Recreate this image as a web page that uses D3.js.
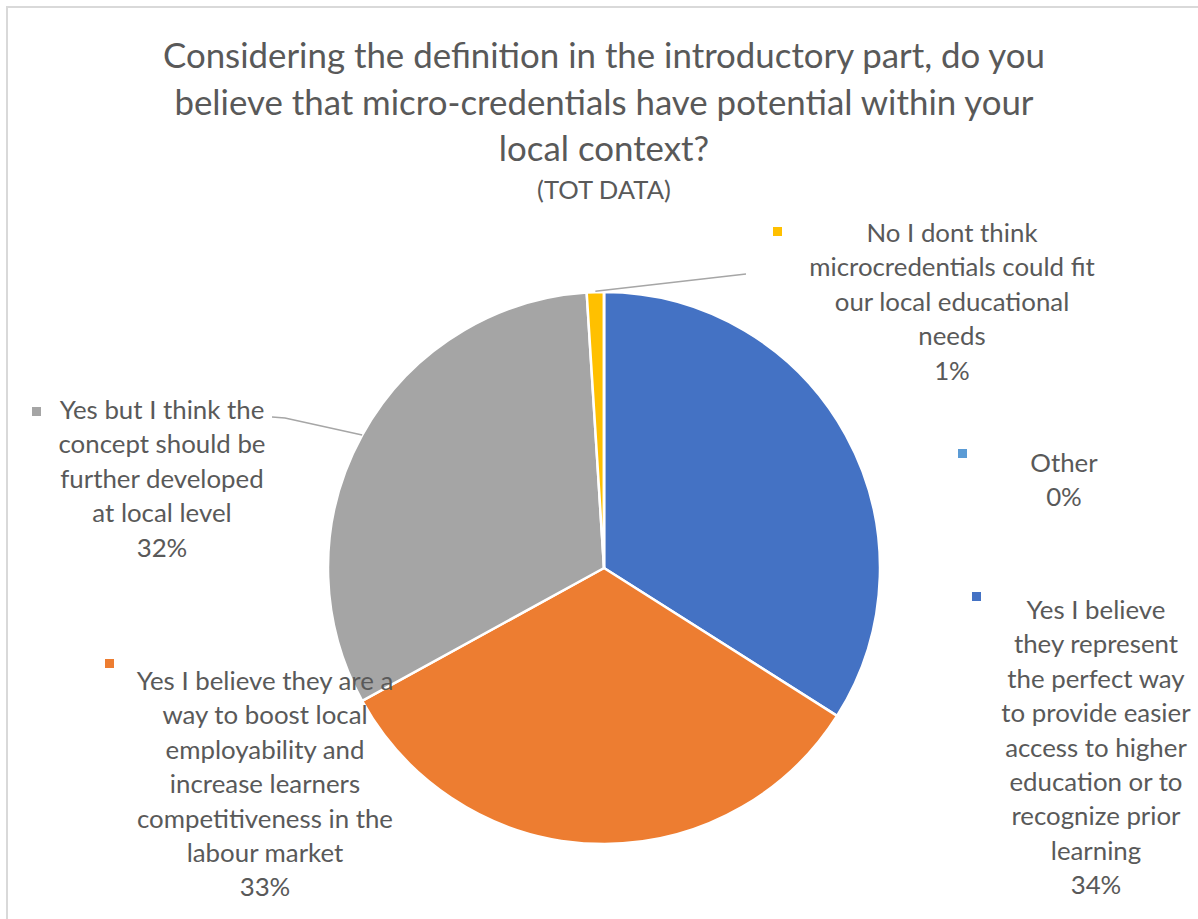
<!DOCTYPE html>
<html>
<head>
<meta charset="utf-8">
<script src="https://cdn.jsdelivr.net/npm/d3@7"></script>
<style>
  html, body { margin: 0; padding: 0; background: #fff; overflow: hidden; }
  text { font-family: Lato, "Open Sans", "Noto Sans", sans-serif; }
</style>
</head>
<body>
<svg id="chart" width="1198" height="919"></svg>
<script>
// ---- data ----
const categories = [
  "Yes I believe they represent the perfect way to provide easier access to higher education or to recognize prior learning",
  "Yes I believe they are a way to boost local employability and increase learners competitiveness in the labour market",
  "Yes but I think the concept should be further developed at local level",
  "No I dont think microcredentials could fit our local educational needs",
  "Other"
];
const shares = [34, 33, 32, 1, 0];
const titleLines = [
  "Considering the definition in the introductory part, do you",
  "believe that micro-credentials have potential within your",
  "local context?"
];
const subtitle = "(TOT DATA)";

// ---- styling / layout ----
const palette = ["#4472C4", "#ED7D31", "#A5A5A5", "#FFC000", "#5B9BD5"];
const textColor = "#595959";
const W = 1198, H = 919;
const cx = 604, cy = 568, R = 276;
const lineGap = 34.4;

// word-wrap points and anchor for each data label (same order as categories)
const labelLayout = [
  { x: 1096, y: 619, key: [972, 592], breaks: [3, 5, 8, 11, 14, 17, 19] },
  { x: 265,  y: 690, key: [105, 659], breaks: [6, 10, 12, 14, 17] },
  { x: 162,  y: 419, key: [32, 407],  breaks: [5, 8, 10] },
  { x: 952,  y: 242, key: [773, 227], breaks: [4, 7, 10] },
  { x: 1064, y: 472, key: [958, 449], breaks: [] }
];

function wrap(str, breaks) {
  const words = str.split(" ");
  const out = [];
  let start = 0;
  breaks.concat([words.length]).forEach(b => { out.push(words.slice(start, b).join(" ")); start = b; });
  return out;
}

const svg = d3.select("#chart");
svg.append("rect").attr("width", W).attr("height", H).attr("fill", "#fff");

// chart area frame
svg.append("rect")
  .attr("x", 7).attr("y", 7)
  .attr("width", W + 20).attr("height", H + 20)
  .attr("fill", "none").attr("stroke", "#d9d9d9").attr("stroke-width", 2);

// condense glyphs to Calibri-like proportions
function condense(sel, k) {
  sel.each(function () {
    const n = this.getComputedTextLength();
    if (n > 0) d3.select(this).attr("textLength", n * k).attr("lengthAdjust", "spacingAndGlyphs");
  });
}

// ---- title ----
const title = svg.append("g").attr("fill", textColor).attr("text-anchor", "middle");
const tl = title.selectAll("text.t").data(titleLines).join("text")
  .attr("class", "t")
  .attr("x", cx).attr("y", (d, i) => 68 + i * 46.5)
  .attr("font-size", 34)
  .text(d => d);
const tRef = tl.nodes()[0].getComputedTextLength();
condense(tl, 882 / tRef);
const st = title.append("text")
  .attr("x", cx).attr("y", 199)
  .attr("font-size", 25)
  .text(subtitle);
condense(st, 882 / tRef);

// ---- pie ----
const pie = d3.pie().sort(null).value(d => d)(shares);
const arc = d3.arc().innerRadius(0).outerRadius(R);
const color = d3.scaleOrdinal().domain(d3.range(categories.length)).range(palette);

const g = svg.append("g").attr("transform", `translate(${cx},${cy})`);
g.selectAll("path").data(pie).join("path")
  .attr("d", arc)
  .attr("fill", (d, i) => color(i))
  .attr("stroke", "#fff")
  .attr("stroke-width", 2.5)
  .attr("stroke-linejoin", "round");

// ---- leader lines (label -> slice midpoint on the rim) ----
const leader = svg.append("g").attr("fill", "none").attr("stroke", "#a6a6a6").attr("stroke-width", 1.5);
function rimPoint(i) {
  const a = (pie[i].startAngle + pie[i].endAngle) / 2;
  return [cx + R * Math.sin(a), cy - R * Math.cos(a)];
}
{
  const p = rimPoint(2);
  leader.append("polyline").attr("points", [[272, 417], [285, 418], p].map(q => q.join(",")).join(" "));
}
{
  const p = rimPoint(3);
  leader.append("polyline").attr("points", [[746, 274], [p[0], p[1] - 1]].map(q => q.join(",")).join(" "));
}

// ---- data labels ----
const pct = d3.format(".0%");
const labels = svg.append("g").attr("fill", textColor);
let labelLines = [];
labelLayout.forEach((L, i) => {
  const lines = wrap(categories[i], L.breaks).concat([pct(shares[i] / 100)]);
  labels.append("rect")
    .attr("x", L.key[0]).attr("y", L.key[1])
    .attr("width", 9).attr("height", 9)
    .attr("fill", color(i));
  const t = labels.selectAll(null).data(lines).join("text")
    .attr("x", L.x).attr("y", (d, j) => L.y + j * lineGap)
    .attr("text-anchor", "middle")
    .attr("font-size", 25)
    .text(d => d);
  labelLines = labelLines.concat(t.nodes());
});
// scale label text so "competitiveness in the" spans its Calibri width
const ref = labelLines.find(n => n.textContent === "competitiveness in the");
const kl = 256 / ref.getComputedTextLength();
condense(d3.selectAll(labelLines), kl);
</script>
</body>
</html>
